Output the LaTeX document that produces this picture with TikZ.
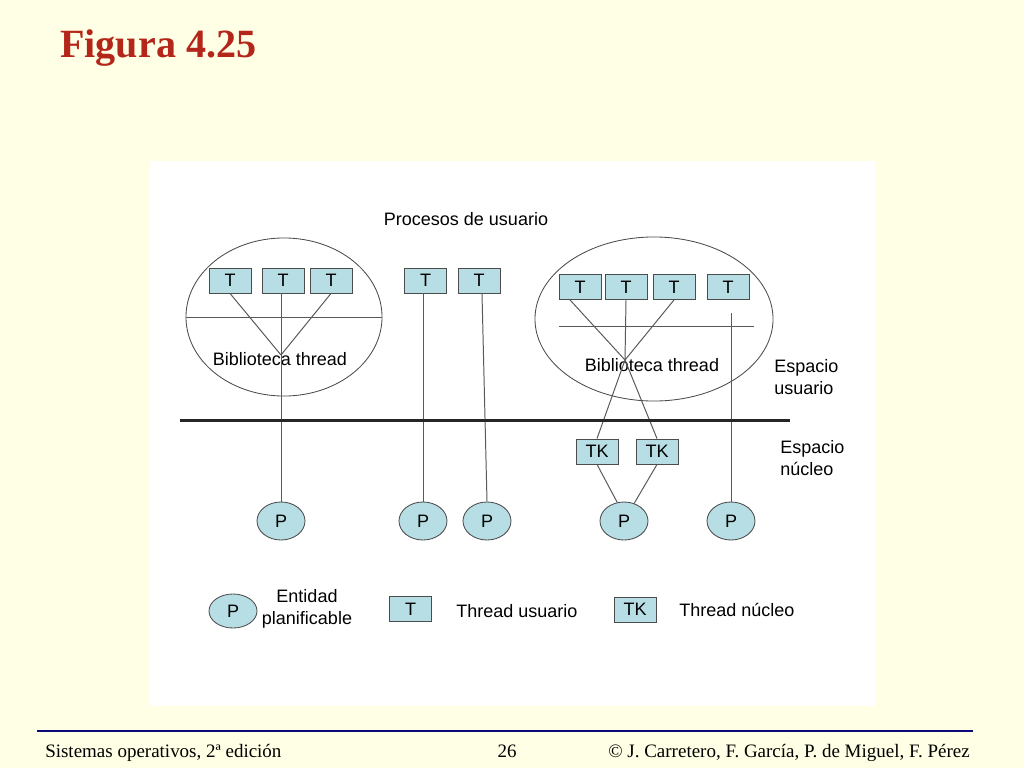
\documentclass[tikz,border=0pt]{standalone}
\usepackage{fontspec}
\setmainfont{Liberation Sans}
\newfontfamily\slidefont{Liberation Serif}
\usetikzlibrary{shapes.geometric}
\definecolor{slidebg}{RGB}{255,255,229}
\definecolor{titlered}{RGB}{179,38,25}
\definecolor{footerblue}{RGB}{10,10,120}
\definecolor{boxfill}{RGB}{183,222,228}
\begin{document}
\begin{tikzpicture}[x=0.025cm,y=-0.025cm,
  every node/.style={font=\fontsize{12.8}{15.6}\selectfont},
  tbox/.style={draw=black!70, fill=boxfill, minimum width=1.05cm, minimum height=0.625cm, inner sep=0pt, line width=0.6pt},
  pnode/.style={ellipse, draw=black!70, fill=boxfill, minimum width=1.2cm, minimum height=0.95cm, inner sep=0pt, line width=0.6pt},
  proc/.style={ellipse, draw=black!70, line width=0.6pt, inner sep=0pt},
  link/.style={draw=black!65, line width=0.7pt},
  lbl/.style={inner sep=0pt},
  foot/.style={inner sep=0pt, font=\slidefont\fontsize{13.5}{16}\selectfont},
]
\fill[slidebg] (0,0) rectangle (1024,768);
\useasboundingbox (0,0) rectangle (1024,768);
\fill[white] (150,161) rectangle (875,706);

% title
\node[anchor=base west, inner sep=0pt, text=titlered, font=\slidefont\bfseries\fontsize{28.5}{34}\selectfont] (title) at (60,58) {Figura 4.25};

% footer
\coordinate (fl) at (37,731);
\coordinate (fr) at (973,731);
\draw[footerblue, line width=2pt] (fl) -- (fr);
\node[foot, anchor=base west] (f1) at (45,757) {Sistemas operativos, 2ª edición};
\node[foot, anchor=base] (f2) at (507,757) {26};
\node[foot, anchor=base east] (f3) at (970,757) {© J. Carretero, F. García, P. de Miguel, F. Pérez};

% header label
\node[lbl] (procs) at (466,219) {Procesos de usuario};

% process ellipses
\node[proc, minimum width=4.9cm, minimum height=3.95cm] (procL) at (284,317) {};
\node[proc, minimum width=5.95cm, minimum height=4.1cm] (procR) at (654,319) {};

% user threads
\node[tbox] (tl1) at (230,280.5) {T};
\node[tbox] (tl2) at (283,280.5) {T};
\node[tbox] (tl3) at (331,280.5) {T};
\node[tbox] (ts1) at (425.5,280.5) {T};
\node[tbox] (ts2) at (479,280.5) {T};
\node[tbox] (tr1) at (580,287) {T};
\node[tbox] (tr2) at (626,287) {T};
\node[tbox] (tr3) at (674,287) {T};
\node[tbox] (tr4) at (728,287) {T};

% kernel threads
\node[tbox] (tk1) at (597,451.5) {TK};
\node[tbox] (tk2) at (657,451.5) {TK};

% schedulable entities
\node[pnode] (pL) at (281,521) {P};
\node[pnode] (pS1) at (423,521) {P};
\node[pnode] (pS2) at (487,521) {P};
\node[pnode] (pR1) at (624,521) {P};
\node[pnode] (pR2) at (731,521) {P};

% library labels
\node[lbl] (libL) at (280,359) {Biblioteca thread};
\node[lbl] (libR) at (652,365) {Biblioteca thread};

% space labels
\node[lbl, anchor=west, align=left] (eu) at (774,377) {Espacio\\usuario};
\node[lbl, anchor=west, align=left] (en) at (780,458.5) {Espacio\\núcleo};

% helper coordinates
\coordinate (hubL) at (281,355);
\coordinate (hubR) at (625,360);
\coordinate (r4top) at (731,313);
\coordinate (ril) at (559,326);
\coordinate (rir) at (754,326);
\coordinate (kl) at (180,420.5);
\coordinate (kr) at (790,420.5);

% library lines
\draw[link] (procL.west) -- (procL.east);
\draw[link] (ril) -- (rir);

% left process
\draw[link] (tl1.south) -- (hubL);
\draw[link] (tl3.south) -- (hubL);
\draw[link] (tl2.south -| pL.north) -- (pL.north);

% single-thread processes
\draw[link] (ts1.south -| pS1.north) -- (pS1.north);
\draw[link] ([xshift=0.075cm]ts2.south) -- (pS2.north);

% right process
\draw[link] ([xshift=-0.25cm]tr1.south) -- (hubR) -- (tk2.north);
\draw[link] (tr3.south) -- (hubR) -- (tk1.north);
\draw[link] (tr2.south) -- (hubR);
\draw[link] (r4top) -- (pR2.north);
\draw[link] (tk1.south) -- (pR1.110);
\draw[link] (tk2.south) -- (pR1.60);

% user/kernel boundary
\draw[black!85, line width=1.5pt] (kl) -- (kr);

% legend
\node[pnode, minimum height=0.85cm] (lp) at (233,611) {P};
\node[lbl, align=center] (lpt) at (307,609) {Entidad\\planificable};
\node[tbox] (lt) at (410.5,609) {T};
\node[lbl, anchor=west] (ltt) at (456,611) {Thread usuario};
\node[tbox] (ltk) at (635,609.5) {TK};
\node[lbl, anchor=west] (ltkt) at (679,610) {Thread núcleo};
\end{tikzpicture}
\end{document}
